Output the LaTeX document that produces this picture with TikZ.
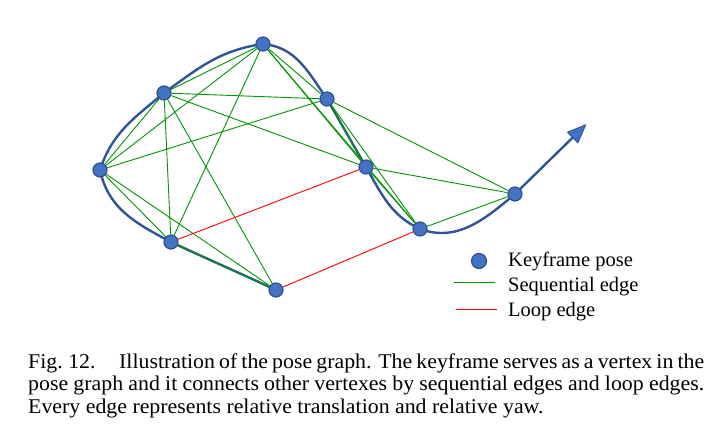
\documentclass[tikz,border=0pt]{standalone}
\usepackage{fontspec}
\setmainfont{Liberation Serif}
\newfontfamily\capfont[FakeStretch=1.04]{Liberation Serif}
\usetikzlibrary{arrows.meta,backgrounds}
\definecolor{kffill}{RGB}{68,114,196}
\definecolor{kfdraw}{RGB}{47,82,143}
\definecolor{trajblue}{RGB}{47,85,151}
\definecolor{seqgreen}{RGB}{0,150,0}
\definecolor{loopred}{RGB}{255,0,0}
\tikzset{
  kf/.style={circle,fill=kffill,draw=kfdraw,line width=1.2pt,minimum size=14pt,inner sep=0pt},
  seq/.style={draw=seqgreen,line width=0.9pt},
  loopedge/.style={draw=loopred,line width=0.9pt},
  traj/.style={draw=trajblue,line width=2.4pt,line join=round,line cap=round},
  lbl/.style={anchor=base west,inner sep=0pt,font=\fontsize{20.5}{25}\selectfont},
  captxt/.style={anchor=base west,inner sep=0pt,font=\capfont\fontsize{21}{22.5}\selectfont},
}
\begin{document}
\begin{tikzpicture}[x=1pt,y=1pt]
\useasboundingbox (0,0) rectangle (719,-431);
% keyframe poses
\node[kf] (A) at (100,-170) {};
\node[kf] (B) at (164,-93) {};
\node[kf] (C) at (263,-44) {};
\node[kf] (D) at (327,-99) {};
\node[kf] (E) at (366,-167) {};
\node[kf] (F) at (171,-242) {};
\node[kf] (G) at (276,-290) {};
\node[kf] (H) at (420,-229) {};
\node[kf] (I) at (515,-194) {};
\coordinate (tip) at (586,-124.5);
\begin{pgfonlayer}{background}
\fill[white] (0,0) rectangle (719,-431);
% trajectory
\draw[traj,-{Triangle[length=20pt,width=16pt,line width=1pt,fill=kffill,round]}]
  (G.center) to[out=155,in=-25] (F.center)
  to[out=152,in=-78] (A.center)
  to[out=72,in=-140] (B.center)
  to[out=36,in=188] (C.center)
  to[out=-5,in=125] (D.center)
  to[out=-60,in=120] (E.center)
  to[out=-60,in=155] (H.center)
  to[out=-20,in=220] (I.center)
  -- (tip);
% sequential edges
\draw[seq] (A) -- (B);
\draw[seq] (A) -- (C);
\draw[seq] (A) -- (D);
\draw[seq] (A) -- (F);
\draw[seq] (A) -- (G);
\draw[seq] (B) -- (C);
\draw[seq] (B) -- (D);
\draw[seq] (B) -- (E);
\draw[seq] (B) -- (F);
\draw[seq] (B) -- (G);
\draw[seq] (C) -- (D);
\draw[seq] (C) -- (E);
\draw[seq] (C) -- (F);
\draw[seq] (C) -- (H);
\draw[seq] (D) -- (E);
\draw[seq] (D) -- (H);
\draw[seq] (D) -- (I);
\draw[seq] (E) -- (H);
\draw[seq] (E) -- (I);
\draw[seq] (H) -- (I);
\draw[seq] (F) -- (G);
% loop edges
\draw[loopedge] (F) -- (E);
\draw[loopedge] (G) -- (H);
\end{pgfonlayer}
% legend
\node[kf,minimum size=15pt] (legdot) at (479,-261) {};
\node[lbl] (legkf) at (508,-266) {Keyframe pose};
\coordinate (gs) at (454,-282.5);
\coordinate (ge) at (495,-282.5);
\draw[seq] (gs) -- (ge);
\node[lbl] (legseq) at (508,-291) {Sequential edge};
\coordinate (rs) at (456,-309.5);
\coordinate (re) at (497,-309.5);
\draw[loopedge] (rs) -- (re);
\node[lbl] (legloop) at (508,-316) {Loop edge};
% caption
\node[captxt] (cap0) at (28,-368) {Fig.~12.};
\node[captxt] (cap1) at (119,-368) {\makebox[585pt][s]{Illustration of the pose graph. The keyframe serves as a vertex in the}};
\node[captxt] (cap2) at (28,-390.5) {\makebox[676pt][s]{pose graph and it connects other vertexes by sequential edges and loop edges.}};
\node[captxt] (cap3) at (28,-413) {Every edge represents relative translation and relative yaw.};
\end{tikzpicture}
\end{document}
